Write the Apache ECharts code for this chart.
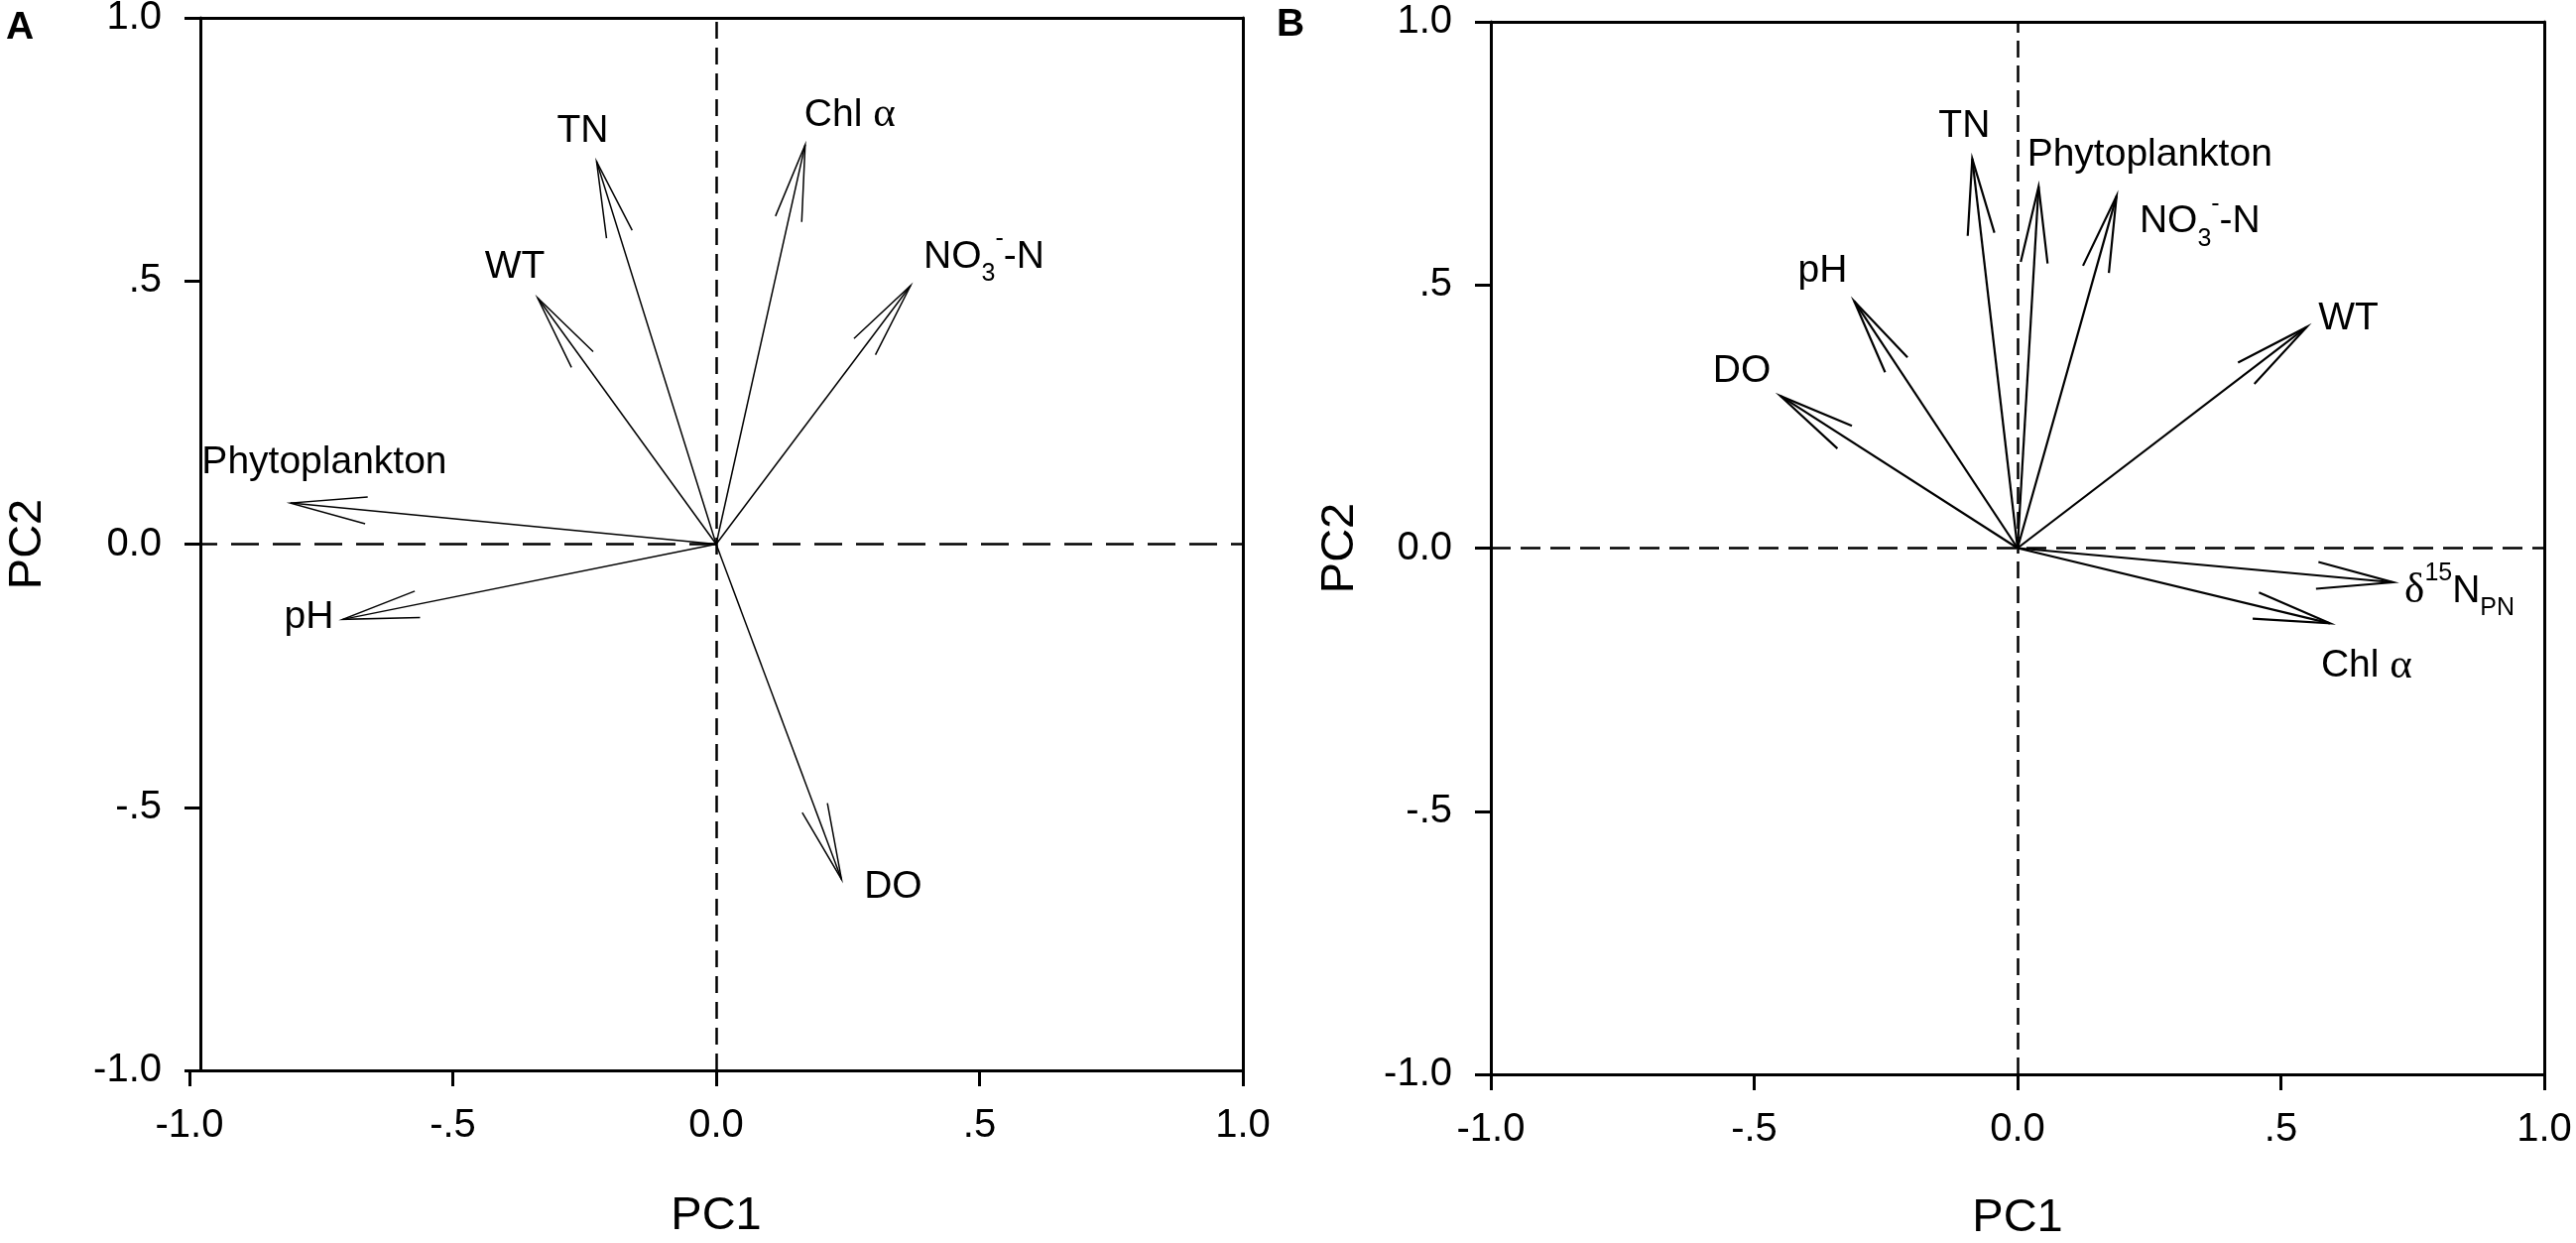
<!DOCTYPE html>
<html>
<head>
<meta charset="utf-8">
<script src="https://cdn.jsdelivr.net/npm/echarts@6/dist/echarts.min.js"></script>
<style>
html,body{margin:0;padding:0;background:#fff;}
#main{width:2597px;height:1253px;}
</style>
</head>
<body>
<div id="main"></div>
<script>
//////// data ////////
var tickValues = [-1, -0.5, 0, 0.5, 1];
var tickLabels = ['-1.0', '-.5', '0.0', '.5', '1.0'];

// panel A
var namesA = ['TN', 'Chl α', 'WT', 'NO3-N', 'Phytoplankton', 'pH', 'DO'];
var pc1A = [-0.227, 0.169, -0.339, 0.369, -0.808, -0.709, 0.238];
var pc2A = [0.727, 0.759, 0.468, 0.491, 0.078, -0.143, -0.637];

// panel B
var namesB = ['TN', 'Phytoplankton', 'NO3-N', 'pH', 'DO', 'WT', 'δ15N PN', 'Chl α'];
var pc1B = [-0.086, 0.040, 0.188, -0.310, -0.450, 0.549, 0.713, 0.593];
var pc2B = [0.740, 0.687, 0.669, 0.469, 0.289, 0.420, -0.065, -0.143];

//////// styling ////////
var sans = '"Liberation Sans", Arial, sans-serif';
var serif = '"Liberation Serif", "DejaVu Serif", serif';

// label offset from arrow tip (px)
var offA = {
	'TN': [-14, -31], 'Chl α': [45, -30], 'WT': [-23, -31], 'NO3-N': [74, -29],
	'Phytoplankton': [34, -41], 'pH': [-34, -2], 'DO': [52, 8]
};
var offB = {
	'TN': [-8, -33], 'Phytoplankton': [112, -32], 'NO3-N': [84, 26], 'pH': [-32, -30],
	'DO': [-39, -25], 'WT': [42, -8], 'δ15N PN': [67, 9], 'Chl α': [37, 43]
};
var richText = {
	'Chl α': '{t|Chl }{g|α}',
	'NO3-N': '{t|NO}{sub|3}{sup|-}{t|-N}',
	'δ15N PN': '{g|δ}{sup2|15}{t|N}{sub2|PN}'
};
var rich = {
	t: {fontFamily: sans, fontSize: 39, lineHeight: 60, fill: '#000'},
	g: {fontFamily: serif, fontSize: 43, lineHeight: 60, fill: '#000'},
	sub: {fontFamily: sans, fontSize: 25, lineHeight: 30, verticalAlign: 'bottom', fill: '#000'},
	sup: {fontFamily: sans, fontSize: 25, lineHeight: 20, verticalAlign: 'top', fill: '#000'},
	sup2: {fontFamily: sans, fontSize: 25, lineHeight: 42, verticalAlign: 'top', fill: '#000'},
	sub2: {fontFamily: sans, fontSize: 25, lineHeight: 12, verticalAlign: 'bottom', fill: '#000'}
};

function fmtTick(v) {
	for (var i = 0; i < tickValues.length; i++) {
		if (Math.abs(tickValues[i] - v) < 1e-9) return tickLabels[i];
	}
	return '';
}

function arrowSeries(idx, names, xs, ys, offs, lw) {
	var data = [];
	for (var i = 0; i < names.length; i++) data.push([xs[i], ys[i]]);
	return {
		type: 'custom',
		xAxisIndex: idx * 2,
		yAxisIndex: idx * 2,
		data: data,
		z: 5,
		silent: true,
		renderItem: function(params, api) {
			var name = names[params.dataIndex];
			var tip = api.coord([api.value(0), api.value(1)]);
			var o = api.coord([0, 0]);
			var ang = Math.atan2(o[1] - tip[1], o[0] - tip[0]);
			var L = 78, h = 10 * Math.PI / 180;
			var b1 = [tip[0] + L * Math.cos(ang + h), tip[1] + L * Math.sin(ang + h)];
			var b2 = [tip[0] + L * Math.cos(ang - h), tip[1] + L * Math.sin(ang - h)];
			var off = offs[name] || [0, 0];
			var txt = richText[name] || ('{t|' + name + '}');
			return {
				type: 'group',
				children: [
					{type: 'line', shape: {x1: o[0], y1: o[1], x2: tip[0], y2: tip[1]},
						style: {stroke: '#000', lineWidth: lw}},
					{type: 'polyline', shape: {points: [b1, tip, b2]},
						style: {stroke: '#000', lineWidth: lw, fill: null}},
					{type: 'text', x: tip[0] + off[0], y: tip[1] + off[1],
						style: {text: txt, rich: rich, align: 'center', verticalAlign: 'middle', fill: '#000'}}
				]
			};
		}
	};
}

function zeroLines(idx, hDash, vDash) {
	return {
		type: 'line',
		xAxisIndex: idx * 2,
		yAxisIndex: idx * 2,
		data: [[0, 0]],
		symbol: 'none',
		lineStyle: {width: 0},
		z: 1,
		silent: true,
		markLine: {
			silent: true,
			symbol: ['none', 'none'],
			label: {show: false},
			animation: false,
			data: [
				{xAxis: 0, lineStyle: {type: vDash, width: 2.5, color: '#000'}},
				{yAxis: 0, lineStyle: {type: hDash, width: 2.5, color: '#000'}}
			]
		}
	};
}

var lineSt = {color: '#000', width: 3};

function mainX(g, gap) {
	return {
		gridIndex: g, type: 'value', min: -1, max: 1, interval: 0.5, position: 'bottom',
		axisLine: {onZero: false, lineStyle: lineSt},
		axisTick: {length: 16, lineStyle: lineSt},
		axisLabel: {margin: 36, fontSize: 40, color: '#000', fontFamily: sans,
			showMinLabel: true, showMaxLabel: true, formatter: fmtTick},
		splitLine: {show: false},
		name: 'PC1', nameLocation: 'middle', nameGap: gap, nameMoveOverlap: false,
		nameTextStyle: {fontSize: 47, color: '#000', fontFamily: sans}
	};
}
function mainY(g, offset, gap) {
	return {
		gridIndex: g, type: 'value', min: -1, max: 1, interval: 0.5, position: 'left', offset: offset,
		axisLine: {onZero: false, lineStyle: lineSt},
		axisTick: {length: 16, lineStyle: lineSt},
		axisLabel: {margin: 39, fontSize: 40, color: '#000', fontFamily: sans,
			showMinLabel: true, showMaxLabel: true, formatter: fmtTick},
		splitLine: {show: false},
		name: 'PC2', nameLocation: 'middle', nameGap: gap, nameMoveOverlap: false,
		nameTextStyle: {fontSize: 47, color: '#000', fontFamily: sans}
	};
}
function frameAxis(g, pos) {
	return {
		gridIndex: g, type: 'value', min: -1, max: 1, position: pos,
		axisLine: {onZero: false, lineStyle: lineSt},
		axisTick: {show: false}, axisLabel: {show: false}, splitLine: {show: false}
	};
}

var myChart = echarts.init(document.getElementById('main'));
myChart.setOption({
	animation: false,
	backgroundColor: '#fff',
	title: [
		{text: 'A', left: 6, top: 9, padding: 0,
			textStyle: {fontSize: 39, fontWeight: 'bold', fontFamily: sans, color: '#000'}},
		{text: 'B', left: 1287, top: 6, padding: 0,
			textStyle: {fontSize: 39, fontWeight: 'bold', fontFamily: sans, color: '#000'}}
	],
	grid: [
		{left: 191, top: 18, width: 1062, height: 1061, containLabel: false, outerBoundsMode: 'none'},
		{left: 1503, top: 22, width: 1062, height: 1061, containLabel: false, outerBoundsMode: 'none'}
	],
	xAxis: [mainX(0, 124), frameAxis(0, 'top'), mainX(1, 122), frameAxis(1, 'top')],
	yAxis: [mainY(0, -11, 150), frameAxis(0, 'right'), mainY(1, 0, 128), frameAxis(1, 'right')],
	series: [
		zeroLines(0, [28, 14], [17, 9]),
		zeroLines(1, [20, 10], [17, 8]),
		arrowSeries(0, namesA, pc1A, pc2A, offA, 1.5),
		arrowSeries(1, namesB, pc1B, pc2B, offB, 2.2)
	]
});
</script>
</body>
</html>
